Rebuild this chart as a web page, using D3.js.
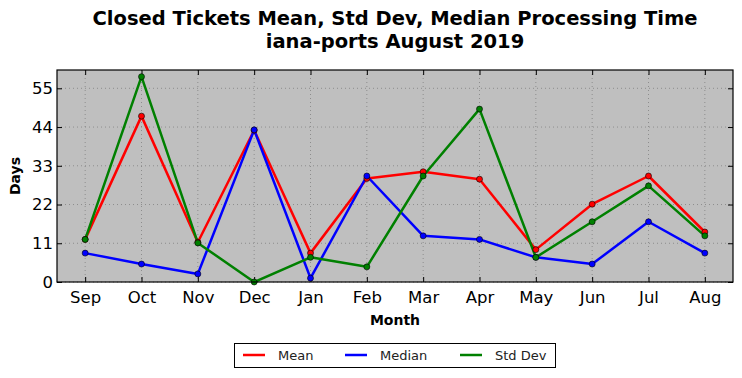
<!DOCTYPE html>
<html><head><meta charset="utf-8">
<script src="https://cdn.jsdelivr.net/npm/d3@7"></script>
<style>body{margin:0;background:#fff;} svg{display:block;font-family:"DejaVu Sans",sans-serif;}</style>
</head><body><svg id="c" width="742" height="378"></svg>
<script>
const months = ["Sep","Oct","Nov","Dec","Jan","Feb","Mar","Apr","May","Jun","Jul","Aug"];
const meanVals = [12.1,47.1,11.3,43.1,8.2,29.4,31.3,29.2,9.2,22.1,30.1,14.2];
const medianVals = [8.2,5.1,2.3,43.2,1.1,30.1,13.1,12.1,7.0,5.1,17.1,8.2];
const stdVals = [12.1,58.3,11.1,0,7.0,4.3,30.1,49.1,7.0,17.1,27.3,13.1];
const yTicks = [0,11,22,33,44,55];
const seriesNames = ["Mean","Median","Std Dev"];
const seriesColors = ["#ff0000","#0000ff","#008000"];
const titleLines = ["Closed Tickets Mean, Std Dev, Median Processing Time","iana-ports August 2019"];

const series = [meanVals, medianVals, stdVals];
const svg = d3.select("#c");
const L=57, R=733, T=70, B=282;
const x = d3.scaleLinear().domain([-0.5, 11.5]).range([L,R]);
const y = d3.scaleLinear().domain([0, 60.2]).range([B,T]);

svg.append("rect").attr("x",L).attr("y",T).attr("width",R-L).attr("height",B-T).attr("fill","#bfbfbf");

// grid
const g = svg.append("g");
months.forEach((m,i)=>{
  g.append("line").attr("x1",x(i)).attr("x2",x(i)).attr("y1",T).attr("y2",B)
   .attr("stroke","#808080").attr("stroke-width",0.8).attr("stroke-dasharray","1,3");
});
yTicks.forEach(t=>{
  g.append("line").attr("x1",L).attr("x2",R).attr("y1",y(t)).attr("y2",y(t))
   .attr("stroke","#808080").attr("stroke-width",0.8).attr("stroke-dasharray","1,3");
});

// axes (ticks inward)
const xAxisB = d3.axisBottom(x).tickValues(d3.range(12)).tickFormat(i=>months[i]).tickSizeInner(-5).tickSizeOuter(0).tickPadding(9);
const xAxisT = d3.axisTop(x).tickValues(d3.range(12)).tickFormat("").tickSizeInner(-5).tickSizeOuter(0);
const yAxisL = d3.axisLeft(y).tickValues(yTicks).tickSizeInner(-5).tickSizeOuter(0).tickPadding(4);
const yAxisR = d3.axisRight(y).tickValues(yTicks).tickFormat("").tickSizeInner(-5).tickSizeOuter(0);
function style(sel){ sel.select(".domain").remove(); sel.selectAll("text").attr("font-size",16.5).attr("fill","#000").attr("font-family","DejaVu Sans"); sel.selectAll("line").attr("stroke","#000"); }
svg.append("g").attr("transform",`translate(0,${B})`).call(xAxisB).call(style);
svg.append("g").attr("transform",`translate(0,${T})`).call(xAxisT).call(style);
svg.append("g").attr("transform",`translate(${L},0)`).call(yAxisL).call(style);
svg.append("g").attr("transform",`translate(${R},0)`).call(yAxisR).call(style);

// lines
const line = d3.line().x((d,i)=>x(i)).y(d=>y(d));
series.forEach((s,k)=>{
  svg.append("path").datum(s).attr("d",line).attr("fill","none").attr("stroke",seriesColors[k]).attr("stroke-width",2.5).attr("stroke-linejoin","round");
});
series.forEach((s,k)=>{
  svg.append("g").selectAll("circle").data(s).join("circle").attr("cx",(d,i)=>x(i)).attr("cy",d=>y(d)).attr("r",3)
   .attr("fill",seriesColors[k]).attr("stroke","#000").attr("stroke-width",0.6);
});

svg.append("rect").attr("x",L).attr("y",T).attr("width",R-L).attr("height",B-T).attr("fill","none").attr("stroke","#000").attr("stroke-width",1.2);

// title
svg.append("text").attr("x",(L+R)/2).attr("y",25).attr("text-anchor","middle").attr("font-size",19.5).attr("font-weight","bold").text(titleLines[0]);
svg.append("text").attr("x",(L+R)/2).attr("y",47.5).attr("text-anchor","middle").attr("font-size",19.5).attr("font-weight","bold").text(titleLines[1]);

// axis labels
svg.append("text").attr("x",(L+R)/2).attr("y",325).attr("text-anchor","middle").attr("font-size",14).attr("font-weight","bold").text("Month");
svg.append("text").attr("transform",`translate(20,${(T+B)/2}) rotate(-90)`).attr("text-anchor","middle").attr("font-size",14).attr("font-weight","bold").text("Days");

// legend
const lg = svg.append("g");
lg.append("rect").attr("x",234.5).attr("y",343.5).attr("width",321).attr("height",24).attr("fill","#fff").attr("stroke","#000").attr("stroke-width",1);
const lx = [243, 345, 460];
seriesNames.forEach((n,k)=>{
  lg.append("line").attr("x1",lx[k]).attr("x2",lx[k]+22).attr("y1",355).attr("y2",355).attr("stroke",seriesColors[k]).attr("stroke-width",2.5);
  lg.append("text").attr("x",lx[k]+35).attr("y",360).attr("font-size",13).attr("fill","#222").text(n);
});
</script></body></html>
